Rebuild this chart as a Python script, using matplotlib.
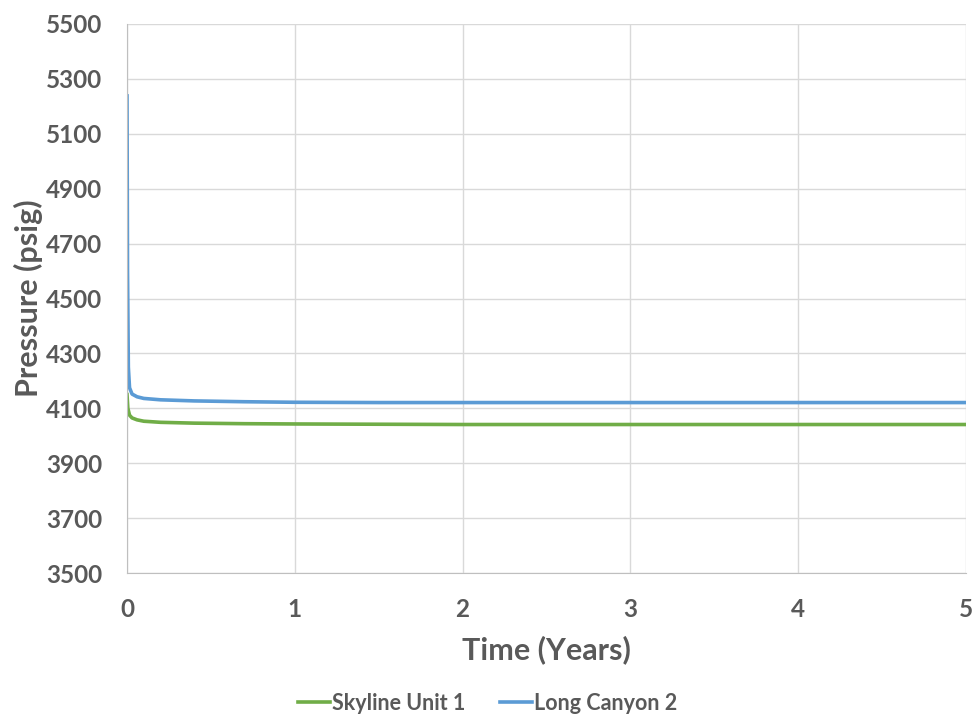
import matplotlib
matplotlib.use("Agg")
import matplotlib.pyplot as plt

plt.rcParams['font.family'] = ['Lato', 'DejaVu Sans']

# data (years, psig)
t_skyline = [0, 0.005, 0.015, 0.03, 0.06, 0.1, 0.2, 0.4, 0.7, 1.0, 1.5, 2, 3, 4, 5]
p_skyline = [4150, 4100, 4075, 4065, 4058, 4053, 4049, 4046, 4044, 4043, 4042, 4041, 4041, 4041, 4041]

t_longcanyon = [0, 0.003, 0.008, 0.015, 0.03, 0.06, 0.1, 0.2, 0.4, 0.7, 1.0, 1.5, 2, 3, 4, 5]
p_longcanyon = [5238, 4600, 4250, 4175, 4152, 4142, 4136, 4131, 4127, 4124, 4122, 4121, 4121, 4121, 4121, 4121]

x_ticks = [0, 1, 2, 3, 4, 5]
y_ticks = list(range(3500, 5501, 200))

fig = plt.figure(figsize=(9.8, 7.18), dpi=100)
ax = fig.add_axes([0.1296, 0.2019, 0.856, 0.7647])

txt = '#595959'
ax.plot(t_skyline, p_skyline, color='#70AD47', lw=2.6, label='Skyline Unit 1')
ax.plot(t_longcanyon, p_longcanyon, color='#5B9BD5', lw=2.6, label='Long Canyon 2')

ax.set_xlim(0, 5)
ax.set_ylim(3500, 5500)
ax.set_xticks(x_ticks)
ax.set_yticks(y_ticks)
ax.grid(True, color='#D9D9D9', lw=1)
ax.set_axisbelow(True)
for s in ['top', 'right']:
    ax.spines[s].set_visible(False)
for s in ['left', 'bottom']:
    ax.spines[s].set_color('#BFBFBF')
ax.tick_params(axis='both', length=0, labelsize=17.5, labelcolor=txt)
ax.tick_params(axis='x', pad=18)
ax.tick_params(axis='y', pad=18)
for lab in ax.get_xticklabels() + ax.get_yticklabels():
    lab.set_fontweight('bold')

ax.set_xlabel('Time (Years)', fontsize=22, fontweight='bold', color=txt, labelpad=10)
ax.set_ylabel('Pressure (psig)', fontsize=22, fontweight='bold', color=txt, labelpad=2)

ax.legend(loc='center', bbox_to_anchor=(0.43, -0.237), ncol=2, frameon=False,
          handlelength=1.5, handletextpad=0.1, columnspacing=1.6,
          prop={'size': 15.5, 'weight': 'bold'}, labelcolor=txt)

fig.savefig('out.png', dpi=100)
